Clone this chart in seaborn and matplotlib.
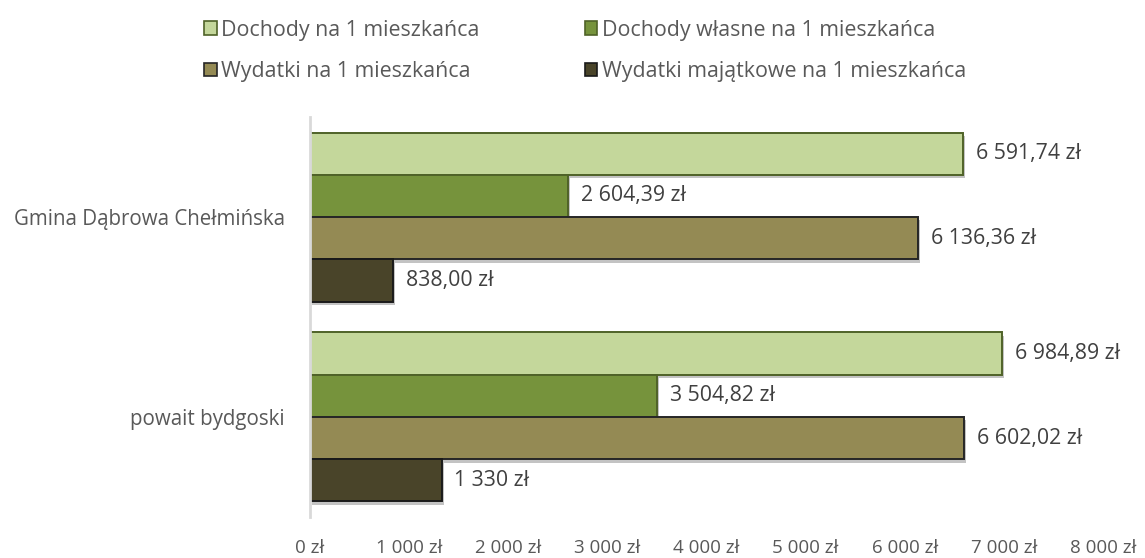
import matplotlib
matplotlib.use("Agg")
import matplotlib.pyplot as plt
import matplotlib.patheffects as pe
from matplotlib.patches import Patch
from matplotlib.ticker import FuncFormatter
import seaborn as sns
import pandas as pd

categories = ["Gmina Dąbrowa Chełmińska", "powait bydgoski"]
series = ["Dochody na 1 mieszkańca", "Dochody własne na 1 mieszkańca",
          "Wydatki na 1 mieszkańca", "Wydatki majątkowe na 1 mieszkańca"]
values_gmina = [6591.74, 2604.39, 6136.36, 838.00]
values_powiat = [6984.89, 3504.82, 6602.02, 1330.00]
labels_gmina = ["6 591,74 zł", "2 604,39 zł", "6 136,36 zł", "838,00 zł"]
labels_powiat = ["6 984,89 zł", "3 504,82 zł", "6 602,02 zł", "1 330 zł"]
xticks = [0, 1000, 2000, 3000, 4000, 5000, 6000, 7000, 8000]

colors = ["#C4D79B", "#76933C", "#948A54", "#494429"]
edges = ["#4F6228", "#4F6228", "#262626", "#1A1A1A"]

rows = []
for cat, vals in zip(categories, [values_gmina, values_powiat]):
    for s, v in zip(series, vals):
        rows.append({"cat": cat, "series": s, "value": v})
df = pd.DataFrame(rows)

sns.set_theme(style="white")
plt.rcParams["font.family"] = ["Open Sans", "DejaVu Sans"]

fig = plt.figure(figsize=(11.45, 5.58), dpi=100)
ax = fig.add_axes([0.2707, 0.0735, 0.9633 - 0.2707, 0.7903 - 0.0735])

sns.barplot(data=df, x="value", y="cat", hue="series", order=categories,
            hue_order=series, palette=colors, orient="h", width=0.845,
            ax=ax, legend=False, saturation=1)

all_labels = [labels_gmina, labels_powiat]
for i, cont in enumerate(ax.containers):
    for j, bar in enumerate(cont):
        bar.set_edgecolor(edges[i])
        bar.set_linewidth(1.4)
        bar.set_path_effects([pe.SimplePatchShadow(offset=(1.5, -2.5), alpha=0.35, shadow_rgbFace="#555555"),
                              pe.Normal()])
    ax.bar_label(cont, labels=[all_labels[j][i] for j in range(len(cont))],
                 padding=9, fontsize=15.3, color="#404040",
                 bbox=dict(facecolor="white", edgecolor="none", pad=3))

ax.set_xlim(0, 8000)
ax.set_xticks(xticks)
ax.xaxis.set_major_formatter(FuncFormatter(lambda v, p: (f"{int(v):,}".replace(",", " ")) + " zł"))
ax.tick_params(axis="x", length=0, pad=16, labelsize=13.5, labelcolor="#595959")
ax.tick_params(axis="y", length=0, pad=18, labelsize=14.8, labelcolor="#595959")
ax.set_xlabel("")
ax.set_ylabel("")
for s in ["top", "right", "bottom"]:
    ax.spines[s].set_visible(False)
ax.spines["left"].set_color("#D9D9D9")
ax.spines["left"].set_linewidth(2)
ax.grid(False)

handles = [Patch(facecolor=c, edgecolor=e, linewidth=1.2) for c, e in zip(colors, edges)]
order = [0, 2, 1, 3]
fig.legend([handles[k] for k in order], [series[k] for k in order], ncol=2,
           loc="center", bbox_to_anchor=(0.511, 0.909), frameon=False,
           fontsize=15.4, labelcolor="#595959", handlelength=0.6, handleheight=0.6,
           handletextpad=0.2, columnspacing=4.9, labelspacing=0.95)

fig.savefig("out.png", dpi=100)
